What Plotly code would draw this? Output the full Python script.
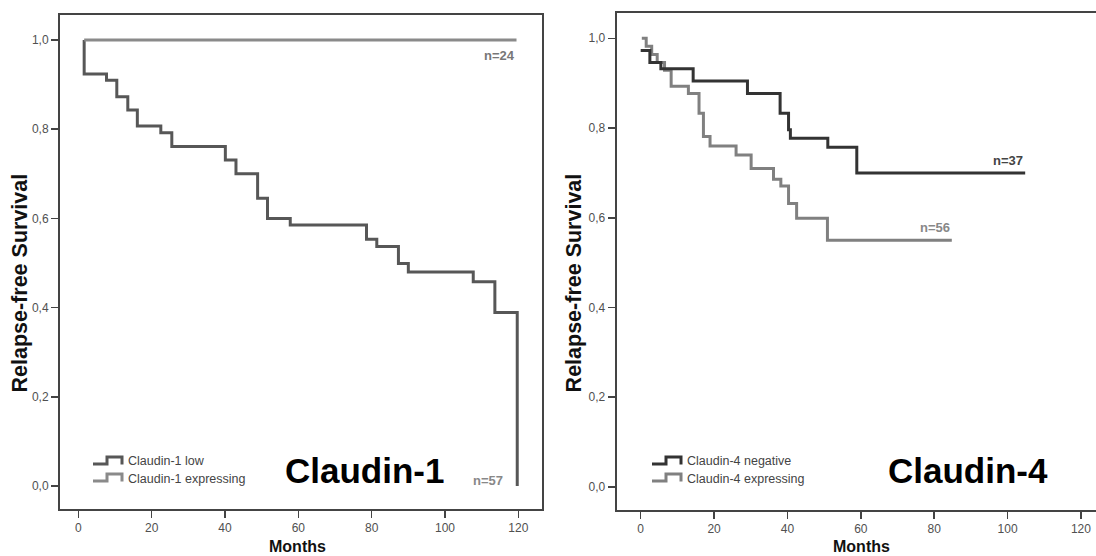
import plotly.graph_objects as go

# ---------------- data ----------------
# Claudin-1 panel (months, relapse-free survival)
c1_low_t = [1.6, 1.6, 7.7, 10.5, 13.5, 16.1, 22.5, 25.5, 40.1, 43.0, 48.9, 51.6, 57.8,
            78.6, 81.4, 87.3, 90.0, 107.7, 113.6, 119.7]
c1_low_s = [1.0, 0.924, 0.910, 0.873, 0.843, 0.807, 0.792, 0.761, 0.731, 0.700, 0.645,
            0.600, 0.585, 0.553, 0.537, 0.499, 0.480, 0.458, 0.389, 0.0]
c1_exp_t = [1.6, 119.5]
c1_exp_s = [1.0, 1.0]

# Claudin-4 panel
c4_neg_t = [0.0, 2.5, 5.5, 14.3, 29.1, 38.0, 40.3, 40.8, 51.0, 58.9, 104.8]
c4_neg_s = [0.973, 0.946, 0.932, 0.905, 0.877, 0.833, 0.796, 0.777, 0.757, 0.700, 0.700]
c4_exp_t = [0.3, 1.5, 3.0, 4.5, 6.5, 8.3, 13.0, 15.9, 17.1, 18.9, 26.0, 30.1, 36.2,
            38.2, 40.3, 42.5, 50.9, 84.8]
c4_exp_s = [1.0, 0.982, 0.964, 0.946, 0.929, 0.893, 0.877, 0.833, 0.781, 0.760, 0.740,
            0.710, 0.686, 0.671, 0.632, 0.599, 0.550, 0.550]

x_ticks = [0, 20, 40, 60, 80, 100, 120]
y_ticks = [0.0, 0.2, 0.4, 0.6, 0.8, 1.0]
y_ticktext = ["0,0", "0,2", "0,4", "0,6", "0,8", "1,0"]

labels_c1 = ["Claudin-1 low", "Claudin-1 expressing"]
labels_c4 = ["Claudin-4 negative", "Claudin-4 expressing"]
n_c1 = ["n=24", "n=57"]
n_c4 = ["n=37", "n=56"]
panel_titles = ["Claudin-1", "Claudin-4"]

# ---------------- figure ----------------
W, H = 1096, 556
FONT = "Liberation Sans, Arial, sans-serif"

def px(x):
    return x / W

def py(y):
    return 1 - y / H

C1_LOW = "#575757"
C1_EXP = "#8a8a8a"
C4_NEG = "#333333"
C4_EXP = "#808080"

fig = go.Figure()
fig.add_trace(go.Scatter(x=c1_low_t, y=c1_low_s, mode="lines", line=dict(shape="hv", color=C1_LOW, width=3),
                         name=labels_c1[0], xaxis="x", yaxis="y", showlegend=False))
fig.add_trace(go.Scatter(x=c1_exp_t, y=c1_exp_s, mode="lines", line=dict(shape="hv", color=C1_EXP, width=3),
                         name=labels_c1[1], xaxis="x", yaxis="y", showlegend=False))
fig.add_trace(go.Scatter(x=c4_exp_t, y=c4_exp_s, mode="lines", line=dict(shape="hv", color=C4_EXP, width=3),
                         name=labels_c4[1], xaxis="x2", yaxis="y2", showlegend=False))
fig.add_trace(go.Scatter(x=c4_neg_t, y=c4_neg_s, mode="lines", line=dict(shape="hv", color=C4_NEG, width=3),
                         name=labels_c4[0], xaxis="x2", yaxis="y2", showlegend=False))

axis_common = dict(showgrid=False, zeroline=False, showline=True, linecolor="#444444", linewidth=2,
                   ticks="outside", ticklen=7, tickwidth=1.5, tickcolor="#444444",
                   tickfont=dict(family=FONT, size=12, color="#505050"))

fig.update_layout(
    width=W, height=H, margin=dict(l=0, r=0, t=0, b=0),
    paper_bgcolor="white", plot_bgcolor="white", showlegend=False,
    xaxis=dict(domain=[px(60), px(541.7)], range=[-4.99, 126.37], tickvals=x_ticks,
               anchor="y", mirror=True, **axis_common),
    yaxis=dict(domain=[py(509), py(15)], range=[-0.0516, 1.0561], tickvals=y_ticks, ticktext=y_ticktext,
               anchor="x", mirror=True, **axis_common),
    xaxis2=dict(domain=[px(616.7), 1.0], range=[-6.54, 124.1], tickvals=x_ticks,
                anchor="y2", mirror=True, **axis_common),
    yaxis2=dict(domain=[py(510), py(13.3)], range=[-0.0513, 1.0557], tickvals=y_ticks, ticktext=y_ticktext,
                anchor="x2", mirror=False, **axis_common),
)

ann = []
# axis titles
for xc in (19.5, 574.4):
    ann.append(dict(text="Relapse-free Survival", x=px(xc), y=py(283), xref="paper", yref="paper",
                    textangle=-90, showarrow=False, xanchor="center", yanchor="middle",
                    font=dict(family=FONT, size=21.5, color="#111111", weight="bold")))
for xc in (297.5, 861):
    ann.append(dict(text="Months", x=px(xc), y=py(546), xref="paper", yref="paper",
                    showarrow=False, xanchor="center", yanchor="middle",
                    font=dict(family=FONT, size=16, color="#111111", weight="bold")))
# panel titles
for xc, t in zip((364, 967.5), panel_titles):
    ann.append(dict(text=t, x=px(xc), y=py(470), xref="paper", yref="paper",
                    showarrow=False, xanchor="center", yanchor="middle",
                    font=dict(family=FONT, size=35, color="#000000", weight="bold")))
# n labels
ann.append(dict(text=n_c1[0], x=c1_exp_t[-1], y=0.966, xref="x", yref="y", showarrow=False,
                xanchor="right", yanchor="middle", font=dict(family=FONT, size=13, color="#777777", weight="bold")))
ann.append(dict(text=n_c1[1], x=116.4, y=0.013, xref="x", yref="y", showarrow=False,
                xanchor="right", yanchor="middle", font=dict(family=FONT, size=13, color="#888888", weight="bold")))
ann.append(dict(text=n_c4[0], x=c4_neg_t[-1], y=0.727, xref="x2", yref="y2", showarrow=False,
                xanchor="right", yanchor="middle", font=dict(family=FONT, size=13, color="#444444", weight="bold")))
ann.append(dict(text=n_c4[1], x=c4_exp_t[-1], y=0.578, xref="x2", yref="y2", showarrow=False,
                xanchor="right", yanchor="middle", font=dict(family=FONT, size=13, color="#888888", weight="bold")))

# custom legends (step glyph + label)
shapes = []
def legend_entry(x0, yc, color, label):
    path = (f"M {px(x0)},{py(yc + 2.5)} L {px(x0 + 14)},{py(yc + 2.5)} L {px(x0 + 14)},{py(yc - 4.5)} "
            f"L {px(x0 + 29)},{py(yc - 4.5)} L {px(x0 + 29)},{py(yc + 3)}")
    shapes.append(dict(type="path", path=path, xref="paper", yref="paper",
                       line=dict(color=color, width=3)))
    ann.append(dict(text=label, x=px(x0 + 33), y=py(yc), xref="paper", yref="paper", showarrow=False,
                    xanchor="left", yanchor="middle", font=dict(family=FONT, size=12.5, color="#444444")))

legend_entry(93, 461.5, C1_LOW, labels_c1[0])
legend_entry(93, 478.5, C1_EXP, labels_c1[1])
legend_entry(652, 461.5, C4_NEG, labels_c4[0])
legend_entry(652, 478.5, C4_EXP, labels_c4[1])

fig.update_layout(annotations=ann, shapes=shapes)
fig.write_html("out.html",
               config={"displayModeBar": False, "staticPlot": True},
               post_script="document.body.style.margin='0';document.body.style.padding='0';"
                           "document.body.style.overflow='hidden';")
